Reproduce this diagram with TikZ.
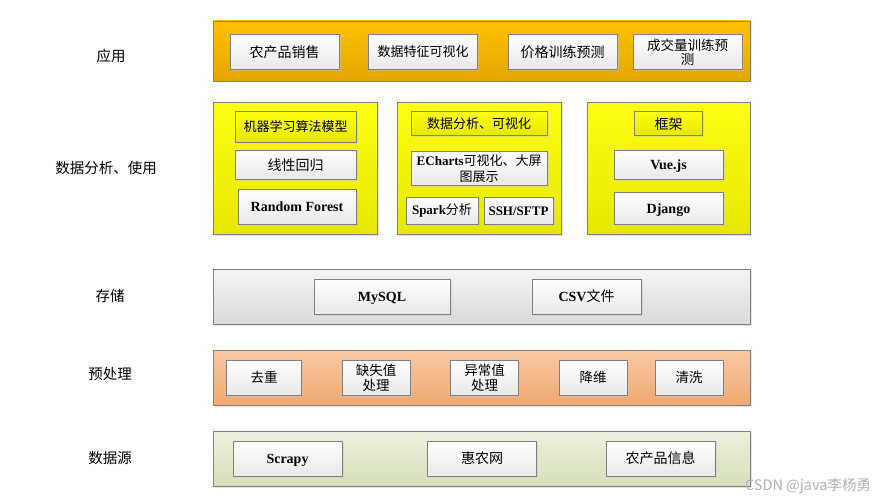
\documentclass[tikz,border=0pt]{standalone}
\usepackage{fontspec}
\setmainfont{Noto Sans CJK SC}
\newfontfamily\lat{Liberation Serif}[BoldFont={Liberation Serif Bold}]
\usetikzlibrary{shadows}

\definecolor{bordergray}{RGB}{128,128,128}
\definecolor{appTop}{RGB}{255,194,0}
\definecolor{appBot}{RGB}{226,166,0}
\definecolor{ylwTop}{RGB}{255,255,20}
\definecolor{ylwBot}{RGB}{230,230,0}
\definecolor{stoTop}{RGB}{244,244,244}
\definecolor{stoBot}{RGB}{218,218,218}
\definecolor{preTop}{RGB}{248,200,165}
\definecolor{preBot}{RGB}{240,168,112}
\definecolor{srcTop}{RGB}{236,241,222}
\definecolor{srcBot}{RGB}{212,223,184}
\definecolor{wmgray}{RGB}{178,178,178}

\newcommand{\en}[1]{{\lat\bfseries #1}}

\tikzset{
  box/.style 2 args={draw=bordergray, line width=0.8pt, rectangle, inner sep=1pt,
    minimum width=#1pt, minimum height=#2pt, align=center,
    drop shadow={shadow xshift=1.5pt, shadow yshift=-1.5pt, fill=black!22}},
  layer/.style n args={4}{box={#1}{#2}, top color=#3, bottom color=#4},
  item/.style 2 args={box={#1}{#2}, top color=white, bottom color=black!9,
    font=\fontsize{14}{15}\selectfont},
  head/.style 2 args={box={#1}{#2}, top color=ylwTop, bottom color=ylwBot,
    font=\fontsize{13}{15}\selectfont},
  latin/.style={text height=9.5pt, text depth=0pt},
  lbl/.style={font=\fontsize{14.5}{16}\selectfont}
}

\begin{document}
\begin{tikzpicture}[x=1pt, y=-1pt]
    \useasboundingbox (0,0) rectangle (886,500);

    % levels on the left
    \foreach \n/\x/\y/\t in {app/111/56/应用, ana/106/168/数据分析、使用,
        sto/110/296/存储, pre/110/374/预处理, src/110/458/数据源} {
        \node[lbl] (L\n) at (\x,\y) {\t};
    }

    % application
    \node[layer={536.5}{60}{appTop}{appBot}] (app) at (481.75,51) {};
    \node[item={109}{35}] (app1) at (284.5,52) {农产品销售};
    \node[item={109}{35}, font=\fontsize{13}{15}\selectfont] (app2) at (423,52) {数据特征可视化};
    \node[item={109}{35}] (app3) at (562.5,52) {价格训练预测};
    \node[item={109}{35}, font=\fontsize{13.5}{14}\selectfont] (app4) at (687.5,52) {成交量训练预\\测};

    % analysis
    \node[layer={164}{132}{ylwTop}{ylwBot}] (ml) at (295.5,168.3) {};
    \node[layer={164}{132}{ylwTop}{ylwBot}] (vis) at (479.6,168.3) {};
    \node[layer={162.5}{132}{ylwTop}{ylwBot}] (fw) at (668.7,168.3) {};

    \node[head={121}{30.6}] (ml0) at (295.5,127) {机器学习算法模型};
    \node[item={121}{28.3}] (ml1) at (295.5,165) {线性回归};
    \node[item={118}{35}, latin] (ml2) at (297,206.8) {\en{Random Forest}};

    \node[head={135.6}{24}] (vis0) at (479.2,123.7) {数据分析、可视化};
    \node[item={135.6}{34}, font=\fontsize{13}{15.5}\selectfont] (vis1) at (479.2,168.7)
        {\en{ECharts}可视化、大屏\\图展示};
    \node[item={72}{27}, font=\fontsize{13}{15}\selectfont] (vis2) at (442,210.8) {\en{Spark}分析};
    \node[item={69}{27}, font=\fontsize{13}{15}\selectfont, latin] (vis3) at (518.5,210.8) {\en{SSH/SFTP}};

    \node[head={68.3}{24}, font=\fontsize{14}{15}\selectfont] (fw0) at (668.7,123.7) {框架};
    \node[item={109}{28.3}, latin] (fw1) at (668.5,165) {\en{Vue.js}};
    \node[item={109}{32}, latin] (fw2) at (668.5,208.3) {\en{Django}};

    % storage
    \node[layer={536.5}{55}{stoTop}{stoBot}] (sto) at (481.75,296.8) {};
    \node[item={136}{35}, latin] (sto1) at (382,296.5) {\en{MySQL}};
    \node[item={109}{35}] (sto2) at (586.5,296.5) {\en{CSV}文件};

    % preprocessing
    \node[layer={536.5}{55.7}{preTop}{preBot}] (pre) at (481.75,377.9) {};
    \foreach \n/\x/\w/\t in {1/264/74.6/去重, 2/376/68/缺失值\\处理, 3/484.6/68/异常值\\处理,
        4/593/68/降维, 5/689/68/清洗} {
        \node[item={\w}{35}, font=\fontsize{13.5}{15}\selectfont] (pre\n) at (\x,377.5) {\t};
    }

    % data source
    \node[layer={536.5}{55}{srcTop}{srcBot}] (src) at (481.75,459.2) {};
    \node[item={109}{35}, latin] (src1) at (287.5,458.5) {\en{Scrapy}};
    \node[item={109}{35}] (src2) at (482,458.5) {惠农网};
    \node[item={109}{35}] (src3) at (660.5,458.5) {农产品信息};

    \node[text=wmgray, font=\fontsize{14.5}{16}\selectfont] (wm) at (808,486) {CSDN @java李杨勇};
\end{tikzpicture}
\end{document}
